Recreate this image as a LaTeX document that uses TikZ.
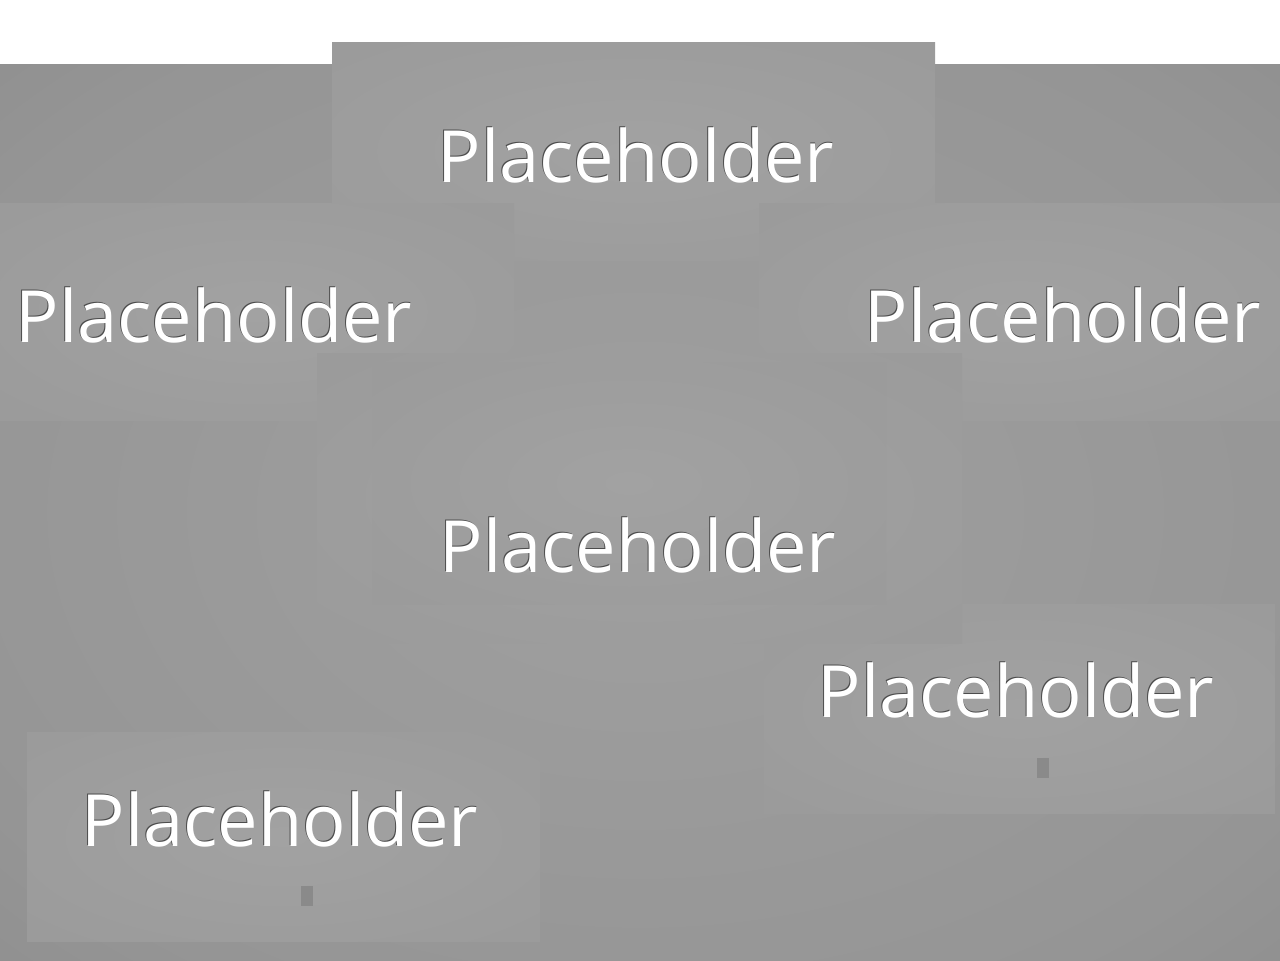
\documentclass[tikz,border=0pt]{standalone}
\usepackage{fontspec}
\setmainfont{Open Sans}
\usepackage{tikz}

\definecolor{BackIn}{HTML}{A0A0A0}
\definecolor{BackMid}{HTML}{959595}
\definecolor{BackOut}{HTML}{7C7C7C}
\definecolor{BoxIn}{HTML}{A2A2A2}
\definecolor{BoxOut}{HTML}{939393}
\definecolor{MarkGray}{HTML}{8A8A8A}
\pgfdeclareradialshading{backglow}{\pgfpoint{0bp}{0bp}}{color(0bp)=(BackIn); color(30bp)=(BackMid); color(62bp)=(BackOut); color(71bp)=(BackOut)}
\pgfdeclareradialshading{boxglow}{\pgfpoint{0bp}{0bp}}{color(0bp)=(BoxIn); color(71bp)=(BoxOut)}
\newcommand{\phtext}[1]{\makebox[0pt][l]{\hspace*{-0.22pt}\raisebox{0.22pt}{\color{black!70}#1}}#1}

\tikzset{
  phbox/.style={shading=boxglow},
  phlabel/.style={text=white, anchor=base, inner sep=0pt, font=\fontsize{20.5pt}{24pt}\selectfont},
  phmark/.style={fill=MarkGray, inner sep=0pt, minimum width=0.12cm, minimum height=0.2cm}
}

\begin{document}
\begin{tikzpicture}[x=0.01cm,y=-0.01cm]
\useasboundingbox (0,0) rectangle (1280,960);
\shade[shading=backglow] (0,64) rectangle (1280,960);
%
\shade[phbox] (332,42) rectangle (935,260);
\shade[phbox] (0,203) rectangle (514,420);
\shade[phbox] (759,203) rectangle (1280,420);
\shade[phbox] (764,604) rectangle (1275,813);
\shade[phbox] (317,353) rectangle (962,643);
\shade[phbox] (372,362) rectangle (886,604);
\shade[phbox] (27,732) rectangle (540,941);
%
\node[phlabel] (topLabel) at (636,182) {\phtext{Placeholder}};
\node[phlabel] (leftLabel) at (214,342) {\phtext{Placeholder}};
\node[phlabel] (rightLabel) at (1063,342) {\phtext{Placeholder}};
\node[phlabel] (midLabel) at (638,572) {\phtext{Placeholder}};
\node[phlabel] (lowRightLabel) at (1016,717) {\phtext{Placeholder}};
\node[phlabel] (lowLeftLabel) at (280,846) {\phtext{Placeholder}};
%
\node[phmark] (lowRightMark) at (1043,768) {};
\node[phmark] (lowLeftMark) at (307,896) {};
\end{tikzpicture}
\end{document}
